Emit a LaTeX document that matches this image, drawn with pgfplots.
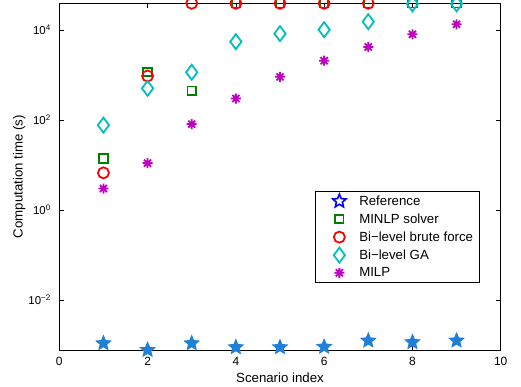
\documentclass[border=0pt]{standalone}
\usepackage{pgfplots}
\pgfplotsset{compat=1.18}
\usepackage{fontspec}
\setmainfont{Liberation Sans}
\usetikzlibrary{plotmarks}

\definecolor{refblue}{RGB}{30,128,215}
\definecolor{mgreen}{RGB}{0,128,0}
\definecolor{mcyan}{RGB}{0,191,191}
\definecolor{mmag}{RGB}{191,0,191}

\pgfdeclareplotmark{fstar}{%
  \pgfpathmoveto{\pgfpointpolar{90}{\pgfplotmarksize}}%
  \pgfpathlineto{\pgfpointpolar{126}{0.45\pgfplotmarksize}}%
  \pgfpathlineto{\pgfpointpolar{162}{\pgfplotmarksize}}%
  \pgfpathlineto{\pgfpointpolar{198}{0.45\pgfplotmarksize}}%
  \pgfpathlineto{\pgfpointpolar{234}{\pgfplotmarksize}}%
  \pgfpathlineto{\pgfpointpolar{270}{0.45\pgfplotmarksize}}%
  \pgfpathlineto{\pgfpointpolar{306}{\pgfplotmarksize}}%
  \pgfpathlineto{\pgfpointpolar{342}{0.45\pgfplotmarksize}}%
  \pgfpathlineto{\pgfpointpolar{18}{\pgfplotmarksize}}%
  \pgfpathlineto{\pgfpointpolar{54}{0.45\pgfplotmarksize}}%
  \pgfpathclose
  \pgfusepathqfillstroke
}
\pgfdeclareplotmark{asteight}{%
  \pgfpathmoveto{\pgfqpoint{-\pgfplotmarksize}{0pt}}%
  \pgfpathlineto{\pgfqpoint{\pgfplotmarksize}{0pt}}%
  \pgfpathmoveto{\pgfqpoint{0pt}{-\pgfplotmarksize}}%
  \pgfpathlineto{\pgfqpoint{0pt}{\pgfplotmarksize}}%
  \pgfpathmoveto{\pgfpointpolar{45}{\pgfplotmarksize}}%
  \pgfpathlineto{\pgfpointpolar{225}{\pgfplotmarksize}}%
  \pgfpathmoveto{\pgfpointpolar{135}{\pgfplotmarksize}}%
  \pgfpathlineto{\pgfpointpolar{315}{\pgfplotmarksize}}%
  \pgfusepathqstroke
}
\pgfplotsset{mylegend/.style={legend image code/.code={\path (0bp,0bp) (36bp,0bp); \draw[##1] plot coordinates {(19bp,0bp)};}}}

\begin{document}
\begin{tikzpicture}
\useasboundingbox (-59.3bp,-36.7bp) rectangle (461.7bp,350.3bp);
\begin{axis}[
  scale only axis,
  width=441.4bp, height=347bp,
  ymode=log,
  xmin=0, xmax=10,
  ymin=7.62e-4, ymax=39170,
  xtick={0,2,4,6,8,10},
  ytick={1e-2,1,1e2,1e4},
  yticklabels={10\textsuperscript{−2},10\textsuperscript{0},10\textsuperscript{2},10\textsuperscript{4}},
  yminorticks=false,
  /pgf/number format/assume math mode=true,
  tick align=inside,
  major tick length=5bp,
  axis line style={line width=0.8bp},
  every tick/.style={black, line width=0.6bp},
  xticklabel style={font=\fontsize{12}{14}\selectfont, yshift=-3bp},
  yticklabel style={font=\fontsize{11.5}{13}\selectfont, xshift=-5bp},
  label style={font=\fontsize{13.3}{16}\selectfont},
  xlabel={Scenario index},
  ylabel={Computation time (s)},
  xlabel style={at={(axis description cs:0.5,-0.078)}, anchor=center},
  ylabel style={at={(axis description cs:-0.091,0.5)}, anchor=center, rotate=0},
  clip=false,
  legend cell align=left,
  legend style={at={(0.953,0.459)}, anchor=north east, draw=black, line width=0.8bp,
    font=\fontsize{13.3}{16}\selectfont, row sep=2.9bp, inner xsep=4.5bp, inner ysep=2.2bp},
]
% Reference
\addplot[only marks, mark=fstar, mark size=7.5bp, draw=refblue, fill=refblue, line width=1bp, forget plot]
  coordinates {(1,1.09e-3) (2,7.74e-4) (3,1.09e-3) (4,8.9e-4) (5,8.9e-4) (6,9.1e-4) (7,1.25e-3) (8,1.15e-3) (9,1.25e-3)};
\addlegendimage{only marks, mark=fstar, mark size=7bp, draw=blue, fill=white, line width=1.6bp, mylegend}
\addlegendentry{Reference}
% MINLP solver
\addplot[only marks, mark=square, mark size=4.2bp, draw=mgreen, line width=1.8bp, mylegend]
  coordinates {(1,14) (2,1170) (3,447) (4,39170) (5,39170) (6,39170) (7,39170) (8,39170) (9,39170)};
\addlegendentry{MINLP solver}
% Bi-level brute force
\addplot[only marks, mark=o, mark size=5.5bp, draw=red, line width=1.8bp, mylegend]
  coordinates {(1,6.7) (2,950) (3,39170) (4,39170) (5,39170) (6,39170) (7,39170)};
\addlegendentry{Bi−level brute force}
% Bi-level GA
\addplot[only marks, mark=diamond, mark size=7.5bp, draw=mcyan, line width=1.8bp, mylegend]
  coordinates {(1,77) (2,505) (3,1150) (4,5500) (5,8300) (6,10150) (7,15300) (8,38000) (9,38000)};
\addlegendentry{Bi−level GA}
% MILP
\addplot[only marks, mark=asteight, mark size=5bp, draw=mmag, line width=1.8bp, mylegend]
  coordinates {(1,3.0) (2,11) (3,81) (4,300) (5,910) (6,2080) (7,4190) (8,8000) (9,13400)};
\addlegendentry{MILP}
\end{axis}
\end{tikzpicture}
\end{document}
